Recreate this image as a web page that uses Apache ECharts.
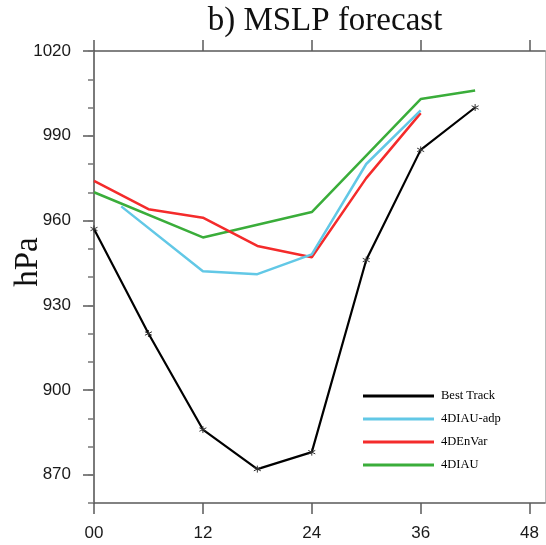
<!DOCTYPE html>
<html>
<head>
<meta charset="utf-8">
<script src="https://cdn.jsdelivr.net/npm/echarts@6/dist/echarts.min.js"></script>
<style>html,body{margin:0;padding:0;background:#fff}#c{width:546px;height:545px}</style>
</head>
<body>
<div id="c"></div>
<script>
// ---- data ----
const titleText = 'b) MSLP forecast';
const yName = 'hPa';
const seriesNames = ['Best Track', '4DIAU-adp', '4DEnVar', '4DIAU'];
const bestTrackHours = [0, 6, 12, 18, 24, 30, 36, 42];
const bestTrackVals  = [957, 920, 886, 872, 878, 946, 985, 1000];
const adpHours = [3, 12, 18, 24, 30, 36];
const adpVals  = [965, 942, 941, 948, 980, 999];
const envarHours = [0, 6, 12, 18, 24, 30, 36];
const envarVals  = [974, 964, 961, 951, 947, 975, 998];
const diauHours = [0, 12, 24, 30, 36, 42];
const diauVals  = [970, 954, 963, 983, 1003, 1006];
const xTicks = [0, 12, 24, 36, 48];
const yTicks = [870, 900, 930, 960, 990, 1020];

const colors = ['#000000', '#62c8e6', '#f42b2b', '#3aad3a'];
const pair = (h, v) => h.map((x, i) => [x, v[i]]);
const star = 'path://M0,-5L0,5M-4.33,-2.5L4.33,2.5M-4.33,2.5L4.33,-2.5';
const axisCol = '#5a5a5a';
const lblFont = {fontFamily: 'Liberation Sans', fontSize: 17, color: '#1a1a1a'};

const chart = echarts.init(document.getElementById('c'), null, {renderer: 'canvas'});
chart.setOption({
  animation: false,
  backgroundColor: '#fff',
  title: {
    text: titleText, left: 320, top: 0, textAlign: 'center',
    textStyle: {fontFamily: 'Liberation Serif', fontSize: 33, fontWeight: 'normal', color: '#111'}
  },
  graphic: [{
    type: 'text', x: 28, y: 262, rotation: Math.PI / 2,
    style: {text: yName, font: '33px "Liberation Serif"', fill: '#111', align: 'center', verticalAlign: 'middle'}
  }],
  grid: {left: 94, right: 1, top: 51, bottom: 42, containLabel: false},
  legend: {
    orient: 'vertical', left: 358, top: 384, itemWidth: 71, itemHeight: 3, itemGap: 9,
    icon: 'rect', itemStyle: {borderWidth: 0},
    textStyle: {fontFamily: 'Liberation Serif', fontSize: 12.5, color: '#000', lineHeight: 14, padding: [0, 0, 0, 2]},
    data: seriesNames
  },
  xAxis: [{
    type: 'value', min: 0, max: 49.7, position: 'bottom',
    axisLine: {show: true, lineStyle: {color: axisCol, width: 1.5}},
    axisTick: {show: true, length: 11, customValues: xTicks, lineStyle: {color: axisCol, width: 1.5}},
    axisLabel: {show: true, customValues: xTicks, margin: 22, ...lblFont,
      formatter: v => (v < 10 ? '0' + v : String(v))},
    splitLine: {show: false}
  }, {
    type: 'value', min: 0, max: 49.7, position: 'top',
    axisLine: {show: true, lineStyle: {color: axisCol, width: 1.5}},
    axisTick: {show: true, length: 11, customValues: xTicks, lineStyle: {color: axisCol, width: 1.5}},
    axisLabel: {show: false}, splitLine: {show: false}
  }],
  yAxis: [{
    type: 'value', min: 860, max: 1020, position: 'left',
    axisLine: {show: true, lineStyle: {color: '#7a7a7a', width: 2}},
    axisTick: {show: true, length: 11, customValues: yTicks, lineStyle: {color: axisCol, width: 1.5}},
    axisLabel: {show: true, customValues: yTicks, margin: 23, ...lblFont, formatter: v => String(v)},
    splitLine: {show: false}
  }, {
    type: 'value', min: 860, max: 1020, interval: 10, position: 'left',
    axisLine: {show: false},
    axisTick: {show: true, length: 6, lineStyle: {color: '#777', width: 1.5}},
    axisLabel: {show: false}, splitLine: {show: false}
  }, {
    type: 'value', min: 860, max: 1020, position: 'right',
    axisLine: {show: true, lineStyle: {color: '#bbb', width: 1}},
    axisTick: {show: false}, axisLabel: {show: false}, splitLine: {show: false}
  }],
  series: [
    {name: seriesNames[3], type: 'line', data: pair(diauHours, diauVals), showSymbol: false, z: 2,
      lineStyle: {color: colors[3], width: 2.5}, itemStyle: {color: colors[3]}},
    {name: seriesNames[2], type: 'line', data: pair(envarHours, envarVals), showSymbol: false, z: 3,
      lineStyle: {color: colors[2], width: 2.5}, itemStyle: {color: colors[2]}},
    {name: seriesNames[1], type: 'line', data: pair(adpHours, adpVals), showSymbol: false, z: 4,
      lineStyle: {color: colors[1], width: 2.5}, itemStyle: {color: colors[1]}},
    {name: seriesNames[0], type: 'line', data: pair(bestTrackHours, bestTrackVals), z: 5,
      symbol: star, symbolSize: 7, showSymbol: true,
      lineStyle: {color: colors[0], width: 2.2},
      itemStyle: {color: colors[0], borderColor: '#333', borderWidth: 1}}
  ]
});
</script>
</body>
</html>
